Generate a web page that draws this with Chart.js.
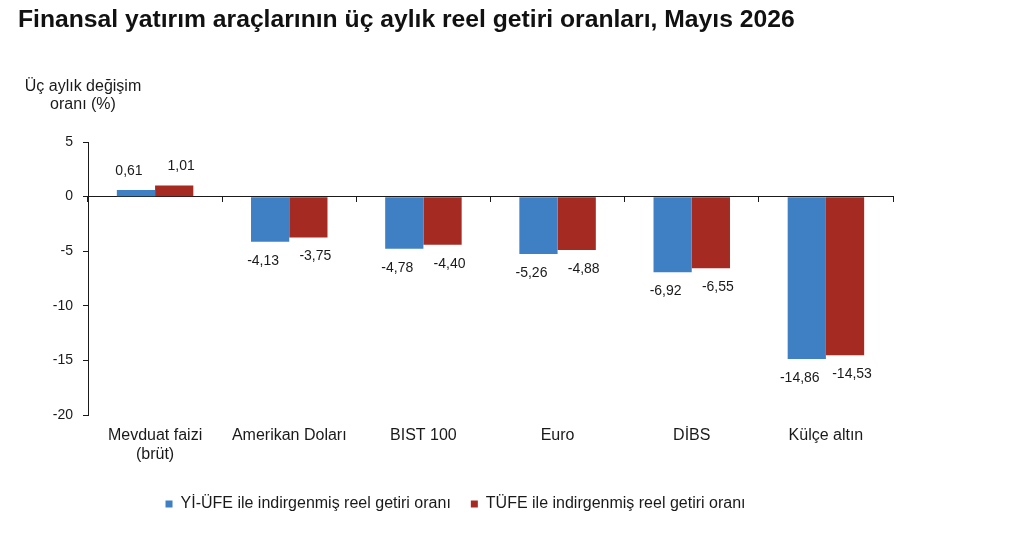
<!DOCTYPE html>
<html>
<head>
<meta charset="utf-8">
<script src="https://cdn.jsdelivr.net/npm/chart.js@4"></script>
<style>
  html, body { margin: 0; padding: 0; background: #fff; }
  canvas { display: block; }
</style>
</head>
<body>
<canvas id="chart" width="1024" height="550"></canvas>
<script>
const categories = [['Mevduat faizi', '(brüt)'], 'Amerikan Doları', 'BIST 100', 'Euro', 'DİBS', 'Külçe altın'];
const yiUfeValues = [0.61, -4.13, -4.78, -5.26, -6.92, -14.86];
const tufeValues = [1.01, -3.75, -4.40, -4.88, -6.55, -14.53];
const yTicks = [5, 0, -5, -10, -15, -20];

const FONT = "'Liberation Sans', Arial, sans-serif";
const INK = '#1a1a1a';

// value labels above / below each bar
const valueLabels = {
  id: 'valueLabels',
  afterDatasetsDraw(chart) {
    const ctx = chart.ctx;
    ctx.save();
    ctx.font = '14px ' + FONT;
    ctx.fillStyle = INK;
    ctx.textAlign = 'center';
    ctx.textBaseline = 'middle';
    chart.data.datasets.forEach((ds, i) => {
      const shift = i === 0 ? -7 : 7;
      chart.getDatasetMeta(i).data.forEach((bar, j) => {
        const v = ds.data[j];
        const y = v >= 0 ? bar.y - 19 : bar.y + 19;
        ctx.fillText(v.toFixed(2).replace('.', ','), bar.x + shift, y);
      });
    });
    ctx.restore();
  }
};

// axis title in the top left corner
const axisCaption = {
  id: 'axisCaption',
  afterDraw(chart) {
    const ctx = chart.ctx;
    const x = chart.chartArea.left - 5;
    ctx.save();
    ctx.font = '16px ' + FONT;
    ctx.fillStyle = INK;
    ctx.textAlign = 'center';
    ctx.textBaseline = 'middle';
    ctx.fillText('Üç aylık değişim', x, 87);
    ctx.fillText('oranı (%)', x, 105);
    ctx.restore();
  }
};

new Chart(document.getElementById('chart'), {
  type: 'bar',
  data: {
    labels: categories,
    datasets: [
      {
        label: 'Yİ-ÜFE ile indirgenmiş reel getiri oranı',
        data: yiUfeValues,
        backgroundColor: '#3f7fc4'
      },
      {
        label: 'TÜFE ile indirgenmiş reel getiri oranı',
        data: tufeValues,
        backgroundColor: '#a52a22'
      }
    ]
  },
  options: {
    responsive: false,
    animation: false,
    devicePixelRatio: 1,
    categoryPercentage: 0.57,
    barPercentage: 1.0,
    layout: { padding: { top: 5, left: 18, right: 131, bottom: 28 } },
    scales: {
      x: {
        position: { y: 0 },
        offset: true,
        ticks: { display: false },
        grid: { offset: true, drawOnChartArea: false, tickLength: 5, color: INK },
        border: { display: true, color: INK, width: 1 }
      },
      x2: {
        type: 'category',
        position: 'bottom',
        offset: true,
        labels: categories,
        grid: { display: false },
        border: { display: false },
        ticks: { padding: 3, color: INK, font: { family: FONT, size: 16, lineHeight: 1.2 } },
        afterFit(scale) { scale.height = 61; }
      },
      y: {
        min: -20,
        max: 5,
        afterBuildTicks(scale) { scale.ticks = yTicks.map(v => ({ value: v })); },
        ticks: {
          padding: 10,
          color: INK,
          font: { family: FONT, size: 14 },
          callback: v => String(v)
        },
        grid: { drawOnChartArea: false, tickLength: 5, color: INK },
        border: { display: true, color: INK, width: 1 },
        afterFit(scale) { scale.width = 70; }
      }
    },
    plugins: {
      title: {
        display: true,
        align: 'start',
        text: 'Finansal yatırım araçlarının üç aylık reel getiri oranları, Mayıs 2026',
        color: '#111',
        font: { family: FONT, size: 24.7, weight: 'bold', lineHeight: 1.2 },
        padding: { top: 0, bottom: 107.4 }
      },
      legend: {
        position: 'bottom',
        labels: {
          boxWidth: 7,
          boxHeight: 7,
          padding: 20,
          color: INK,
          font: { family: FONT, size: 16 }
        }
      },
      tooltip: { enabled: false }
    }
  },
  plugins: [valueLabels, axisCaption]
});
</script>
</body>
</html>
